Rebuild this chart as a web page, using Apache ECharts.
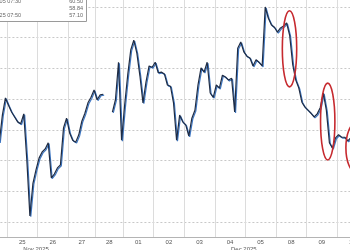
<!DOCTYPE html>
<html><head><meta charset="utf-8">
<script src="https://cdn.jsdelivr.net/npm/echarts@6/dist/echarts.min.js"></script>
<style>html,body{margin:0;padding:0;background:#fff;overflow:hidden}#c{width:350px;height:250px}</style>
</head><body><div id="c"></div>
<script>
// ---- data ----
const days = ['24','25','26','27','28','01','02','03','04','05','08','09','10'];
const dayMonth = ['Nov','Nov','Nov','Nov','Nov','Dec','Dec','Dec','Dec','Dec','Dec','Dec','Dec'];
const pointsPerDay = [10,10,10,9,9,10,10,10,10,10,10,10,10];
const prices = [
  null,null,null,null,null,null,null,58.30,58.74,59.02,            // 24
  58.90,58.79,58.71,58.63,58.60,58.76,58.01,57.10,57.63,57.85,     // 25
  58.04,58.14,58.19,58.29,57.72,57.78,57.88,57.93,58.53,58.69,     // 26
  58.45,58.33,58.30,58.42,58.64,58.77,58.94,59.03,59.15,           // 27
  58.99,59.07,59.08,null,null,58.79,58.99,59.60,58.33,             // 28
  58.90,59.39,59.80,59.96,59.75,59.38,58.94,59.28,59.54,59.52,     // 01
  59.60,59.43,59.44,59.41,59.23,59.21,58.94,58.33,58.74,58.63,     // 02
  58.58,58.40,58.69,58.82,59.23,59.51,59.44,59.60,59.10,59.03,     // 03
  59.23,59.18,59.39,59.36,59.31,59.34,58.79,59.83,59.93,59.77,     // 04
  59.70,59.67,59.54,59.64,59.60,59.54,60.50,60.32,60.21,60.17,     // 05
  60.09,60.16,60.19,60.24,60.04,59.56,59.31,59.18,58.95,58.87,     // 08
  58.82,58.77,58.71,58.76,58.86,59.10,58.82,58.29,58.20,58.37,     // 09
  58.42,58.38,58.38,58.32,58.37,null,null,null,null,null           // 10
];
const monthLabels = [['25', 9, 'Nov 2025'], ['04', 9, 'Dec 2025']];
const statRows = [['Dec 05 07:30', '60.50'], ['', '58.84'], ['Nov 25 07:50', '57.10']];
// highlighted zones: [fromIndex, toIndex, highValue, lowValue]
const highlights = [[99.6, 104.3, 60.44, 59.20], [112.1, 116.8, 59.26, 58.01], [120.4, 127.0, 58.61, 57.81]];

// ---- build categories ----
const categories = [], dayStart = {}, labelAt = {}, monthAt = {}, startOf = {};
let idx = 0;
days.forEach((d, k) => {
  const n = pointsPerDay[k];
  dayStart[idx] = true; startOf[d] = idx;
  labelAt[idx + Math.floor((n - 1) / 2)] = n % 2 === 0 ? '{e|' + d + '}' : '{o|' + d + '}';
  for (let j = 0; j < n; j++) categories.push(dayMonth[k] + ' ' + d + ' #' + j);
  idx += n;
});
const monthStart = {};
days.forEach((d, k) => { if (k > 0 && dayMonth[k] !== dayMonth[k - 1]) monthStart[startOf[d]] = true; });
monthLabels.forEach(([d, j, t]) => { monthAt[startOf[d] + j] = t; });

const FONT = 'Liberation Sans, Arial, sans-serif';
const LEFT = -23.6, RIGHT = -17.6;
const chart = echarts.init(document.getElementById('c'), null, {renderer: 'canvas'});
const option = {
  animation: false,
  backgroundColor: '#fff',
  grid: [
    {left: LEFT, right: RIGHT, top: -23.7, bottom: -2.7, containLabel: false, outerBoundsMode: 'none'},
    {left: LEFT, right: RIGHT, top: -3, bottom: 13, containLabel: false, outerBoundsMode: 'none'}
  ],
  xAxis: [{
    gridIndex: 0, type: 'category', data: categories, boundaryGap: true, show: false
  }, {
    gridIndex: 1, type: 'category', data: categories, boundaryGap: true, z: 1,
    axisLine: {show: true, lineStyle: {color: '#b4b4b4', width: 1}},
    axisTick: {show: true, interval: (i) => !!monthStart[i], length: 14, lineStyle: {color: '#444', width: 1}},
    splitLine: {show: true, interval: (i) => !!dayStart[i], lineStyle: {color: '#dcdcdc', width: 1}},
    axisLabel: {
      interval: (i) => labelAt[i] !== undefined, formatter: (v, i) => labelAt[i] || '',
      margin: 2, color: '#555', fontSize: 6, fontFamily: FONT,
      rich: {e: {padding: [0, 0, 0, 3], fontSize: 6, fontFamily: FONT, color: '#555'},
             o: {fontSize: 6, fontFamily: FONT, color: '#555'}}
    }
  }, {
    gridIndex: 1, type: 'category', data: categories, boundaryGap: true, position: 'bottom', offset: 7,
    axisLine: {show: false}, axisTick: {show: false}, splitLine: {show: false},
    axisLabel: {interval: (i) => monthAt[i] !== undefined, formatter: (v, i) => monthAt[i] || '',
      margin: 2, color: '#555', fontSize: 6, fontFamily: FONT}
  }],
  yAxis: [{
    gridIndex: 0, type: 'value', position: 'right', min: 56.5, max: 61.0, interval: 0.5,
    axisLine: {show: false}, axisTick: {show: false}, axisLabel: {show: false},
    splitLine: {show: true, lineStyle: {color: '#c8c8c8', type: [2, 2], width: 1}}
  }, {
    gridIndex: 1, type: 'value', min: 0, max: 1, interval: 1,
    axisLine: {show: false}, axisTick: {show: false}, axisLabel: {show: false}, splitLine: {show: false}
  }],
  series: [{
    type: 'line', data: prices, xAxisIndex: 0, yAxisIndex: 0, z: 5,
    showSymbol: false, symbol: 'none', connectNulls: false,
    lineStyle: {color: '#1f2c44', width: 1.2, shadowColor: '#3f78c4', shadowBlur: 0, shadowOffsetX: 0.9, shadowOffsetY: 0.9}
  }]
};
chart.setOption(option);

const toPx = (f, v) => {
  const a = chart.convertToPixel({xAxisIndex: 0, yAxisIndex: 0}, [0, v]);
  const b = chart.convertToPixel({xAxisIndex: 0, yAxisIndex: 0}, [1, v]);
  return [a[0] + (b[0] - a[0]) * f, a[1]];
};
const graphics = [];
highlights.forEach(([i0, i1, hi, lo]) => {
  const p0 = toPx(i0, hi), p1 = toPx(i1, lo);
  graphics.push({type: 'ellipse', z: 100, silent: true,
    shape: {cx: (p0[0] + p1[0]) / 2, cy: (p0[1] + p1[1]) / 2, rx: Math.abs(p1[0] - p0[0]) / 2, ry: Math.abs(p1[1] - p0[1]) / 2},
    style: {fill: null, stroke: '#c62a2f', lineWidth: 1.6}});
});
graphics.push({type: 'rect', z: 100, shape: {x: -3, y: -3, width: 89.5, height: 24.5},
  style: {fill: '#fff', stroke: '#9a9a9a', lineWidth: 1}});
statRows.forEach(([l, r], k) => {
  const y = 1.8 + k * 7;
  if (l) graphics.push({type: 'text', z: 101, x: 21, y: y, style: {text: l, fill: '#666', font: '5.5px ' + FONT, textAlign: 'right', textVerticalAlign: 'middle'}});
  graphics.push({type: 'text', z: 101, x: 83, y: y, style: {text: r, fill: '#666', font: '5.5px ' + FONT, textAlign: 'right', textVerticalAlign: 'middle'}});
});
chart.setOption({graphic: graphics});
</script></body></html>
